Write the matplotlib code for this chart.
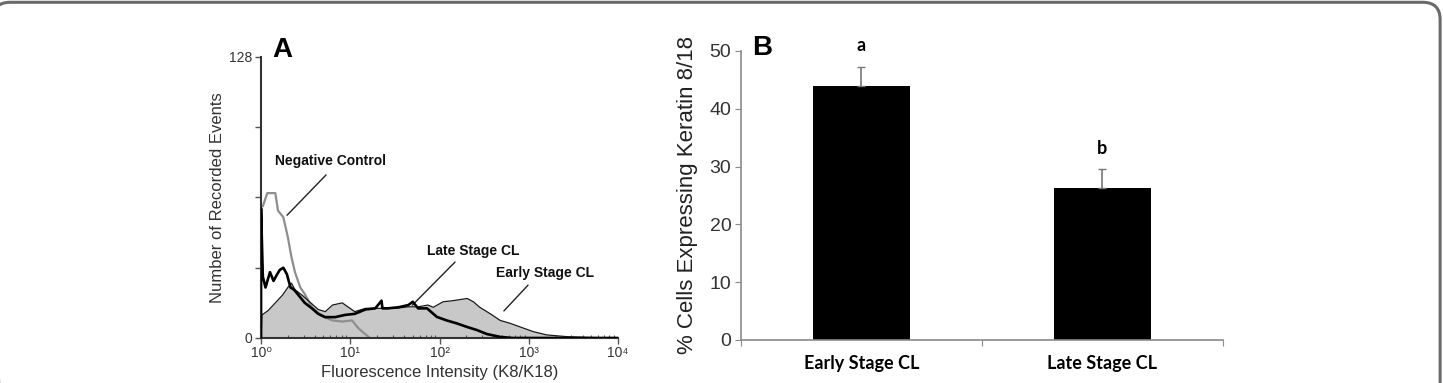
import numpy as np
import matplotlib
matplotlib.use("Agg")
import matplotlib.pyplot as plt
from matplotlib.patches import FancyBboxPatch

plt.rcParams['font.family'] = ['Liberation Sans', 'DejaVu Sans']

# ---- panel A : flow cytometry histograms (x given as log10 of intensity) ----
neg_log = [0.0, 0.02, 0.07, 0.12, 0.16, 0.19, 0.25, 0.30, 0.34, 0.38, 0.44, 0.49,
           0.57, 0.68, 0.80, 0.91, 1.02, 1.09, 1.16, 1.22]
neg_cnt = [60, 60, 66, 66, 66, 58, 55, 46, 37, 30, 23, 20,
           14, 10, 8, 7.5, 8, 4.5, 2, 0]

late_log = [0.0, 0.0, 0.02, 0.05, 0.10, 0.14, 0.18, 0.21, 0.25, 0.29, 0.33, 0.37,
            0.42, 0.49, 0.57, 0.64, 0.72, 0.83, 0.94, 1.05, 1.17, 1.28, 1.35, 1.36,
            1.42, 1.54, 1.65, 1.70, 1.76, 1.86, 1.97, 2.08, 2.19, 2.31, 2.42, 2.53,
            2.68, 2.82, 4.0]
late_cnt = [0, 59, 28, 23, 30, 26, 29, 31, 32, 29, 23, 22,
            19.5, 16, 13.5, 11, 9.5, 9.5, 10.5, 11, 13, 13.5, 17, 13.5,
            13.5, 14, 15, 16.5, 13.5, 13.5, 9.6, 8, 6.7, 5, 3.6, 1.8,
            0.5, 0, 0]

early_log = [0.0, 0.01, 0.08, 0.16, 0.24, 0.30, 0.34, 0.38, 0.46, 0.53, 0.64, 0.72,
             0.80, 0.91, 0.98, 1.05, 1.17, 1.31, 1.50, 1.65, 1.76, 1.87, 1.93, 2.04,
             2.15, 2.23, 2.31, 2.38, 2.45, 2.57, 2.68, 2.79, 2.94, 3.05, 3.20, 3.43,
             3.65, 3.95, 4.0]
early_cnt = [0, 10.5, 12.5, 16, 19.5, 23, 25, 22, 19.5, 17, 13, 12,
             15, 16, 14, 12, 13.5, 13.5, 13.5, 14.2, 14.2, 15, 14, 16.5,
             17, 17.5, 18, 16.5, 14, 11, 8, 6.7, 4.5, 2.9, 1.4, 0.6,
             0.3, 0, 0]

decade_labels = ["10⁰", "10¹", "10²", "10³", "10⁴"]

# ---- panel B : bar chart ----
categories = ["Early Stage CL", "Late Stage CL"]
pct_values = [44.0, 26.3]
pct_err = [3.3, 3.3]
sig_letters = ["a", "b"]

fig = plt.figure(figsize=(14.43, 3.83), dpi=100)

# rounded frame around the figure (left side and bottom fall outside)
frame = FancyBboxPatch((-0.005, -0.2), 1.003, 1.194, boxstyle="round,pad=0,rounding_size=0.012",
                       transform=fig.transFigure, fill=False, edgecolor="#6a6a6a", lw=2.2,
                       mutation_aspect=3.77)
fig.patches.append(frame)

# ---------------- A ----------------
ax = fig.add_axes([0.1809, 0.1175, 0.2474, 0.7337])
xe = 10 ** np.array(early_log)
xl = 10 ** np.array(late_log)
xn = 10 ** np.array(neg_log)
ax.fill_between(xe, 0, early_cnt, color="#c8c8c8", lw=0, zorder=1)
ax.plot(xe, early_cnt, color="#1a1a1a", lw=0.9, zorder=3)
ax.plot(xn, neg_cnt, color="#8e8e8e", lw=1.6, zorder=2)
ax.plot(xl, late_cnt, color="black", lw=1.9, zorder=4)

ax.set_xscale("log")
ax.set_xlim(1, 1e4)
ax.set_ylim(0, 128)
ax.set_xticks([1, 10, 100, 1000, 10000], labels=decade_labels)
ax.set_yticks([0, 32, 64, 96, 128], labels=["0", "", "", "", "128"])
for s in ["top", "right"]:
    ax.spines[s].set_visible(False)
for s in ["left", "bottom"]:
    ax.spines[s].set_color("#333333")
    ax.spines[s].set_linewidth(1.5)
ax.tick_params(axis="both", which="major", length=4, width=1, color="#555555",
               labelsize=10, labelcolor="#333333", pad=2)
ax.tick_params(axis="x", which="minor", direction="in", length=2, width=0.8, color="#555555")
ax.set_xlabel("Fluorescence Intensity (K8/K18)", fontsize=12, color="#333333")
ax.set_ylabel("Number of Recorded Events", fontsize=12, color="#333333")
ax.xaxis.set_label_coords(0.5, -0.095)
ax.yaxis.set_label_coords(-0.10, 0.5)

ann = dict(fontsize=10, fontweight="bold", ha="center", va="center", color="#111111")
ax.text(5.93, 80.6, "Negative Control", **ann)
ax.annotate("", xy=(1.86, 55), xytext=(5.63, 75.2),
            arrowprops=dict(arrowstyle="-", color="#222222", lw=1))
ax.text(237, 39.6, "Late Stage CL", **ann)
ax.annotate("", xy=(47, 14), xytext=(157, 35.5),
            arrowprops=dict(arrowstyle="-", color="#222222", lw=1))
ax.text(1514, 29.6, "Early Stage CL", **ann)
ax.annotate("", xy=(501, 11.4), xytext=(1030, 25),
            arrowprops=dict(arrowstyle="-", color="#222222", lw=1))
fig.text(282 / 1443, 1 - 50 / 383, "A", fontsize=20, fontweight="bold", ha="center", va="center")

# ---------------- B ----------------
ax2 = fig.add_axes([0.5135, 0.1123, 0.334, 0.7546])
pos = np.arange(len(categories)) + 0.5
ax2.bar(pos, pct_values, width=0.4, color="black", zorder=2,
        yerr=[[0] * len(pct_err), pct_err],
        error_kw=dict(ecolor="#777777", elinewidth=1.2, capsize=3, capthick=1))
for p, v, e, t in zip(pos, pct_values, pct_err, sig_letters):
    ax2.text(p, v + e + 3.6, t, fontsize=13, fontweight="bold", family=["Lato", "DejaVu Sans"],
             ha="center", va="center")
ax2.set_xlim(0, 2)
ax2.set_ylim(0, 50)
ax2.set_yticks(range(0, 51, 10))
ax2.set_xticks([0, 1, 2], labels=["", "", ""])
ax2.set_xticks(pos, labels=categories, minor=True)
for s in ["top", "right"]:
    ax2.spines[s].set_visible(False)
for s in ["left", "bottom"]:
    ax2.spines[s].set_color("#8a8a8a")
    ax2.spines[s].set_linewidth(1.2)
ax2.tick_params(axis="y", length=4, color="#8a8a8a", labelsize=14, labelcolor="#333333", pad=3)
ax2.tick_params(axis="x", which="major", length=4, color="#8a8a8a")
ax2.tick_params(axis="x", which="minor", length=0, pad=11)
for lab in ax2.get_xticklabels(minor=True):
    lab.set_fontfamily(["Lato", "DejaVu Sans"])
    lab.set_fontweight("bold")
    lab.set_fontsize(13)
ax2.set_ylabel("% Cells Expressing Keratin 8/18", fontsize=16, color="#222222")
ax2.yaxis.set_label_coords(-0.09, 0.5)
fig.text(762 / 1443, 1 - 48 / 383, "B", fontsize=20, fontweight="bold", ha="center", va="center")

fig.savefig("out.png", dpi=100)
